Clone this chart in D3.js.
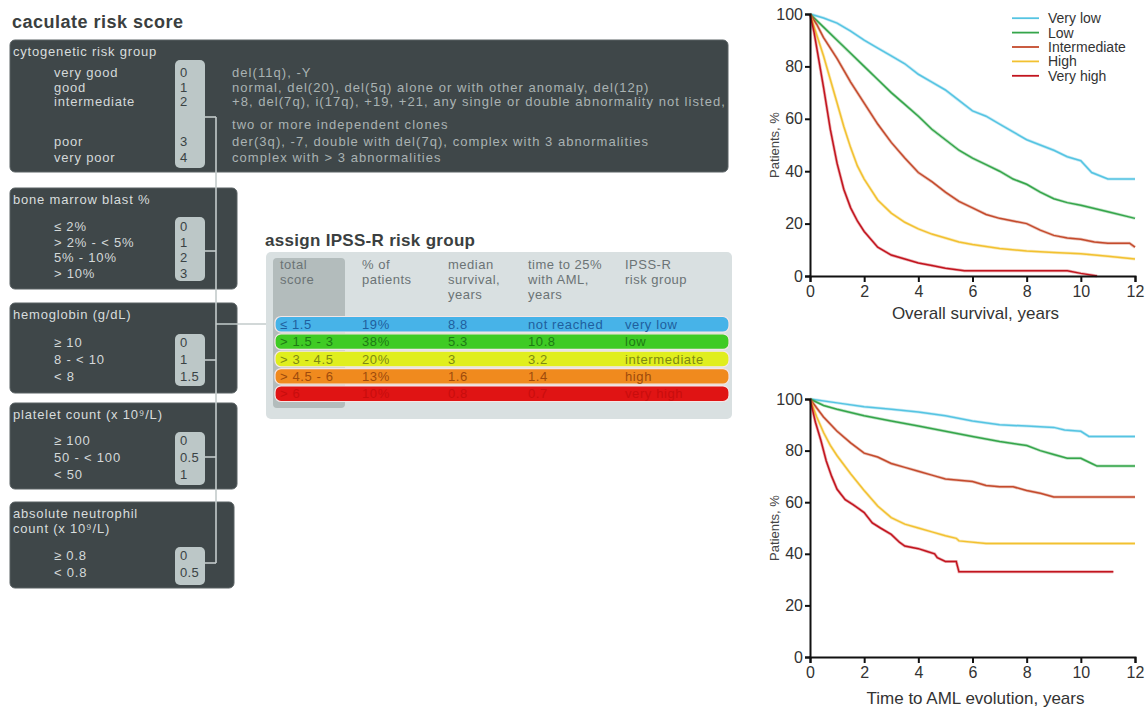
<!DOCTYPE html>
<html><head><meta charset="utf-8">
<script src="https://cdn.jsdelivr.net/npm/d3@7"></script>
<style>body{margin:0;background:#fff}svg{display:block}</style>
</head><body><svg id="c" width="1147" height="708"></svg>
<script>
// ---------- DATA ----------
const cytoLabels = ["very good","good","intermediate","poor","very poor"];
const cytoScores = ["0","1","2","3","4"];
const cytoDesc = ["del(11q), -Y",
  "normal, del(20), del(5q) alone or with other anomaly, del(12p)",
  "+8, del(7q), i(17q), +19, +21, any single or double abnormality not listed,",
  "der(3q), -7, double with del(7q), complex with 3 abnormalities",
  "complex with > 3 abnormalities"];
const cytoDescCont = "two or more independent clones";
const blastLabels = ["\u2264 2%","> 2% - < 5%","5% - 10%","> 10%"];
const blastScores = ["0","1","2","3"];
const hbLabels = ["\u2265 10","8 - < 10","< 8"];
const hbScores = ["0","1","1.5"];
const pltLabels = ["\u2265 100","50 - < 100","< 50"];
const pltScores = ["0","0.5","1"];
const ancLabels = ["\u2265 0.8","< 0.8"];
const ancScores = ["0","0.5"];

const tableHeaders = [["total","score"],["% of","patients"],["median","survival,","years"],["time to 25%","with AML,","years"],["IPSS-R","risk group"]];
const totalScore = ["\u2264 1.5","> 1.5 - 3","> 3 - 4.5","> 4.5 - 6","> 6"];
const pctPatients = ["19%","38%","20%","13%","10%"];
const medianSurv = ["8.8","5.3","3","1.6","0.8"];
const timeAML = ["not reached","10.8","3.2","1.4","0.7"];
const riskLabel = ["very low","low","intermediate","high","very high"];

const riskGroups = ["Very low","Low","Intermediate","High","Very high"];
const xTicks = [0,2,4,6,8,10,12];
const yTicks = [0,20,40,60,80,100];

const osVeryLow = [[0,100],[0.5,98.5],[1,96.5],[1.5,93.5],[2,90],[2.5,87],[3,84],[3.5,81],[4,77],[4.5,74],[5,71],[5.5,67],[6,63],[6.5,61],[7,58],[7.5,55],[8,52],[8.5,50],[9,48],[9.5,45.5],[10,44],[10.4,39.5],[11,37],[12,37]];
const osLow = [[0,100],[0.5,95],[1,90],[1.5,85],[2,80],[2.5,75],[3,70],[3.5,65.5],[4,61],[4.5,56],[5,52],[5.5,48],[6,45],[6.5,42.5],[7,40],[7.5,37],[8,35],[8.5,32],[9,29.5],[9.5,28],[10,27],[11,24.5],[12,22]];
const osInt = [[0,100],[0.25,96],[0.5,91],[1,83],[1.5,74],[2,66],[2.5,58],[3,51],[3.5,45],[4,39.5],[4.5,36],[5,32],[5.5,28.5],[6,26],[6.5,23.5],[7,22],[7.5,21],[8,20],[8.5,17.5],[9,15.5],[9.5,14.5],[10,14],[10.5,13],[11,12.5],[11.8,12.5],[12,11]];
const osHigh = [[0,100],[0.25,92],[0.5,84],[0.75,75],[1,66],[1.25,57],[1.5,49],[1.75,42],[2,37],[2.5,29],[3,24],[3.5,20.5],[4,18],[4.5,16],[5,14.5],[5.5,13],[6,12],[7,10.5],[8,9.5],[9,9],[10,8.5],[11,7.5],[12,6.5]];
const osVeryHigh = [[0,100],[0.15,93],[0.3,84],[0.5,72],[0.75,56],[1,43],[1.25,33],[1.5,26],[1.75,21],[2,17],[2.5,11],[3,8],[3.5,6.5],[4,5],[4.5,4],[5,3],[5.7,2],[9.5,2],[10,1],[10.6,0]];

const amlVeryLow = [[0,100],[1,98.5],[2,97],[3,96],[4,95],[5,93.5],[6,91.5],[7,90],[8,89.5],[9,89],[9.4,88],[10,87.5],[10.3,85.5],[12,85.5]];
const amlLow = [[0,100],[0.5,97.5],[1,96],[2,93.5],[3,91.5],[4,89.5],[5,87.5],[6,85.5],[7,83.5],[8,82],[8.5,80],[9,78.5],[9.5,77],[10,77],[10.4,75],[10.6,74],[12,74]];
const amlInt = [[0,100],[0.5,93],[1,87.5],[1.5,83],[2,79],[2.5,77.5],[3,75],[3.5,73.5],[4,72],[4.5,70.5],[5,69],[6,68],[6.5,66.5],[7,66],[7.5,66],[8,64.5],[8.5,63.5],[9,62],[12,62]];
const amlHigh = [[0,100],[0.25,93],[0.5,87],[0.75,82],[1,78],[1.5,71],[2,64.5],[2.5,58.5],[3,54],[3.5,51.5],[4,50],[4.5,48.5],[5,47],[5.4,46],[5.5,45],[6.5,44],[12,44]];
const amlVeryHigh = [[0,100],[0.2,91],[0.4,84],[0.6,76],[0.8,70],[1,65],[1.3,61],[1.6,59],[2,56],[2.3,52],[2.6,50],[3,47.5],[3.3,44.5],[3.5,43],[4,42],[4.3,41],[4.6,40],[4.7,38.5],[5,37],[5.4,37],[5.5,33],[11.2,33]];

// ---------- STYLES ----------
const lineColors = ["#55c4e2","#35a54a","#c44a2c","#f2c130","#c2141e"];
const rowFill = ["#47b3e8","#3fcb24","#e0ee1e","#f08a1e","#e01414"];
const rowText = ["#1f5f9e","#1d7a14","#7e8a12","#9e4a0c","#c80d0d"];
const PANEL = "#3f4749", BOX = "#bcc7c7", LBL = "#d4d9d9", DESC = "#aab3b3";
const FONT = "'Liberation Sans', Arial, sans-serif";

const svg = d3.select("#c");
svg.append("rect").attr("width",1147).attr("height",708).attr("fill","#fff");

function txt(g, x, y, s, opts={}) {
  return g.append("text").attr("x",x).attr("y",y).attr("dominant-baseline","central")
    .attr("font-family",FONT).attr("font-size",opts.size||13)
    .attr("letter-spacing",opts.ls!==undefined?opts.ls:0.8)
    .attr("font-weight",opts.weight||"normal").attr("fill",opts.fill||LBL)
    .attr("text-anchor",opts.anchor||"start").text(s);
}

// ---------- LEFT: calculate risk score ----------
txt(svg,12,22,"caculate risk score",{size:18,weight:"bold",fill:"#3b3f40",ls:0.5});

const panels = [
  {x:10,y:40,w:718,h:132,head:["cytogenetic risk group"],labels:cytoLabels,scores:cytoScores,rows:[72,87,101,141,157],box:[60,168],stub:117},
  {x:10,y:188,w:227,h:101,head:["bone marrow blast %"],labels:blastLabels,scores:blastScores,rows:[226,242,257,273],box:[217,281],stub:251},
  {x:10,y:303,w:227,h:90,head:["hemoglobin (g/dL)"],labels:hbLabels,scores:hbScores,rows:[342,359,376],box:[334,386],stub:360},
  {x:10,y:403,w:227,h:86,head:["platelet count (x 10\u2079/L)"],labels:pltLabels,scores:pltScores,rows:[440,457,474],box:[432,485],stub:457},
  {x:10,y:502,w:224,h:86,head:["absolute neutrophil","count (x 10\u2079/L)"],labels:ancLabels,scores:ancScores,rows:[555,572],box:[547,585],stub:563}
];
const left = svg.append("g");
panels.forEach(p => {
  left.append("rect").attr("x",p.x).attr("y",p.y).attr("width",p.w).attr("height",p.h)
    .attr("rx",5).attr("fill",PANEL).attr("stroke","#5a6264").attr("stroke-width",1);
  p.head.forEach((h,i)=>txt(left,p.x+3,p.y+11+i*15,h,{fill:"#d8dddd"}));
  left.append("rect").attr("x",175).attr("y",p.box[0]).attr("width",30).attr("height",p.box[1]-p.box[0])
    .attr("rx",5).attr("fill",BOX);
  p.labels.forEach((l,i)=>txt(left,54,p.rows[i],l));
  p.scores.forEach((s,i)=>txt(left,180,p.rows[i],s,{fill:"#3a4244",ls:0.3}));
});
cytoDesc.forEach((d,i)=>txt(left,232,panels[0].rows[i],d,{fill:DESC,ls:1.05}));
txt(left,232,124,cytoDescCont,{fill:DESC,ls:1.05});

// connectors
const conn = svg.append("g").attr("stroke","#c3cbcb").attr("stroke-width",1.6).attr("fill","none");
conn.append("line").attr("x1",216).attr("x2",216).attr("y1",117).attr("y2",563);
panels.forEach(p=>conn.append("line").attr("x1",205).attr("x2",216).attr("y1",p.stub).attr("y2",p.stub));
conn.append("line").attr("x1",216).attr("x2",276).attr("y1",324).attr("y2",324);

// ---------- TABLE ----------
txt(svg,265,240,"assign IPSS-R risk group",{size:17,weight:"bold",fill:"#3b3f40",ls:0.3});
const tb = svg.append("g");
tb.append("rect").attr("x",266).attr("y",252).attr("width",466).attr("height",167).attr("rx",5).attr("fill","#d9e0e1");
tb.append("rect").attr("x",273).attr("y",258).attr("width",72).attr("height",150).attr("rx",4).attr("fill","#b3bcbc");
const colX = [280,362,448,528,625];
tableHeaders.forEach((h,c)=>h.forEach((s,i)=>txt(tb,colX[c],264+i*15,s,{fill:"#6b7375",ls:0.5})));
const rowY = d3.scaleBand().domain(d3.range(5)).range([316.5,401.5]).paddingInner(0.1);
const cols = [totalScore,pctPatients,medianSurv,timeAML,riskLabel];
d3.range(5).forEach(r=>{
  tb.append("rect").attr("x",275).attr("y",rowY(r)).attr("width",454).attr("height",rowY.bandwidth())
    .attr("rx",6).attr("fill",rowFill[r]).attr("stroke","#f4e6e6").attr("stroke-width",1.2);
  cols.forEach((col,c)=>txt(tb,colX[c],rowY(r)+rowY.bandwidth()/2,col[r],{fill:rowText[r],ls:0.6}));
});

// ---------- CHARTS ----------
const xS = d3.scaleLinear().domain([0,12]).range([810,1135]);
function drawChart(y0,y1,series,title,titleY,yLabelY,legend){
  const yS = d3.scaleLinear().domain([0,100]).range([y1,y0]);
  const g = svg.append("g");
  const line = d3.line().x(d=>xS(d[0])).y(d=>yS(d[1]));
  series.forEach((s,i)=>{
    g.append("path").datum(s).attr("d",line).attr("fill","none")
      .attr("stroke",lineColors[i]).attr("stroke-width",3).attr("opacity",0.35);
    g.append("path").datum(s).attr("d",line).attr("fill","none")
      .attr("stroke",lineColors[i]).attr("stroke-width",1.5);
  });
  const ax = g.append("g").attr("transform",`translate(810,0)`)
    .call(d3.axisLeft(yS).tickValues(yTicks).tickSize(5).tickPadding(2));
  const bx = g.append("g").attr("transform",`translate(0,${y1})`)
    .call(d3.axisBottom(xS).tickValues(xTicks).tickSize(6).tickPadding(4));
  [ax,bx].forEach(a=>{
    a.select(".domain").attr("stroke","#111").attr("stroke-width",2);
    a.selectAll(".tick line").attr("stroke","#111").attr("stroke-width",2);
    a.selectAll(".tick text").attr("font-family",FONT).attr("font-size",16).attr("fill","#333");
  });
  txt(g,(810+1135)/2+3,titleY,title,{size:17,fill:"#333",anchor:"middle",ls:0});
  g.append("text").attr("transform",`translate(774,${yLabelY}) rotate(-90)`)
    .attr("text-anchor","middle").attr("dominant-baseline","central")
    .attr("font-family",FONT).attr("font-size",13).attr("fill","#444").text("Patients, %");
  if(legend){
    const ly = d3.scaleBand().domain(riskGroups).range([11,83]);
    riskGroups.forEach((r,i)=>{
      const yy = ly(r)+ly.bandwidth()/2;
      g.append("line").attr("x1",1012).attr("x2",1039).attr("y1",yy).attr("y2",yy)
        .attr("stroke",lineColors[i]).attr("stroke-width",1.8);
      txt(g,1048,yy,r,{size:14,fill:"#333",ls:0});
    });
  }
}
drawChart(14,276,[osVeryLow,osLow,osInt,osHigh,osVeryHigh],"Overall survival, years",313,145,true);
drawChart(399,657,[amlVeryLow,amlLow,amlInt,amlHigh,amlVeryHigh],"Time to AML evolution, years",698,528,false);
</script></body></html>
